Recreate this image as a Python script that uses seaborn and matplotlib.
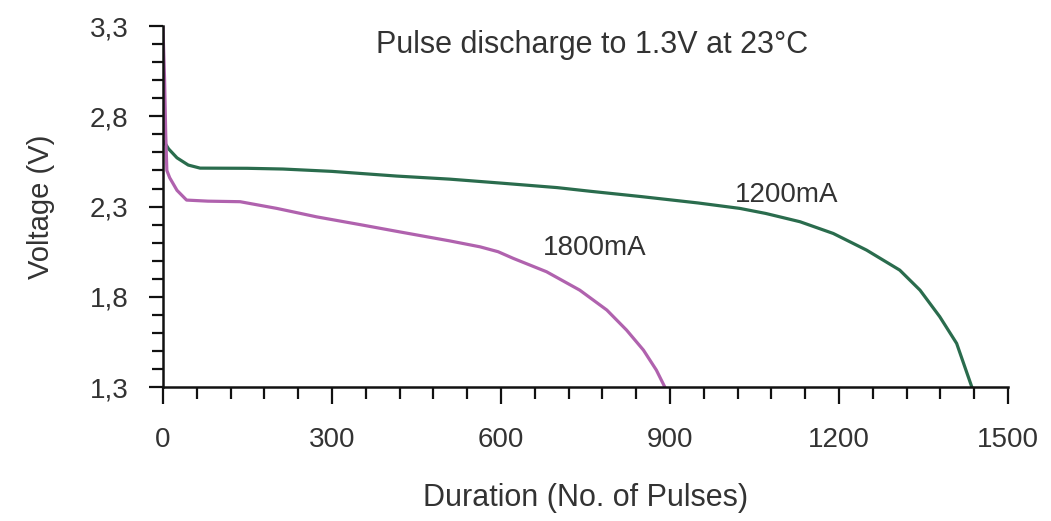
import numpy as np
import pandas as pd
import matplotlib
matplotlib.use("Agg")
import matplotlib.pyplot as plt
import seaborn as sns
from matplotlib.ticker import MultipleLocator

# ==========================
# data
# ==========================

pulses_1200 = [2, 10, 25, 45, 66, 150, 213, 300, 415, 509, 600, 700, 758, 850,
               950, 1024, 1070, 1131, 1190, 1249, 1308, 1344, 1379, 1409, 1436]
volts_1200 = [2.66, 2.62, 2.57, 2.53, 2.513, 2.512, 2.508, 2.495, 2.469, 2.452,
              2.43, 2.405, 2.385, 2.355, 2.32, 2.29, 2.262, 2.216, 2.151, 2.059,
              1.948, 1.837, 1.69, 1.542, 1.3]

pulses_1800 = [0, 3, 5, 7, 12, 25, 42, 80, 137, 202, 273, 350, 420, 509, 563,
               595, 622, 681, 740, 788, 823, 853, 876, 891]
volts_1800 = [3.3, 3.0, 2.7, 2.5, 2.46, 2.39, 2.336, 2.33, 2.327, 2.29, 2.243,
              2.20, 2.16, 2.11, 2.077, 2.05, 2.013, 1.939, 1.837, 1.727, 1.616,
              1.505, 1.394, 1.3]

x_ticks = [0, 300, 600, 900, 1200, 1500]
y_ticks = [1.3, 1.8, 2.3, 2.8, 3.3]
y_tick_labels = ["1,3", "1,8", "2,3", "2,8", "3,3"]

df = pd.concat([
    pd.DataFrame({"pulses": pulses_1200, "volts": volts_1200, "series": "1200mA"}),
    pd.DataFrame({"pulses": pulses_1800, "volts": volts_1800, "series": "1800mA"}),
])

# ==========================
# plot
# ==========================

sns.set_style("white")
plt.rcParams["font.family"] = ["Liberation Sans", "DejaVu Sans"]

fig = plt.figure(figsize=(10.51, 5.21), dpi=100)
ax = fig.add_axes([0.155, 0.257, 0.804, 0.693])

sns.lineplot(
    data=df,
    x="pulses",
    y="volts",
    hue="series",
    palette={"1200mA": "#2a6c4d", "1800mA": "#b062ae"},
    sort=False,
    estimator=None,
    linewidth=2.3,
    legend=False,
    ax=ax
)

ax.set_xlim(0, 1500)
ax.set_ylim(1.3, 3.3)
ax.set_xticks(x_ticks)
ax.set_xticklabels([str(t) for t in x_ticks])
ax.set_yticks(y_ticks)
ax.set_yticklabels(y_tick_labels)
ax.xaxis.set_minor_locator(MultipleLocator(60))
ax.yaxis.set_minor_locator(MultipleLocator(0.1))

ax.tick_params(axis="both", which="both", direction="out", width=1.6,
               color="#111111", bottom=True, left=True)
ax.tick_params(axis="both", which="major", labelsize=20, labelcolor="#333333")
ax.tick_params(axis="x", which="major", length=12, pad=17)
ax.tick_params(axis="x", which="minor", length=8.5)
ax.tick_params(axis="y", which="major", length=10, pad=15)
ax.tick_params(axis="y", which="minor", length=8)

sns.despine(ax=ax)
for side in ["left", "bottom"]:
    ax.spines[side].set_linewidth(1.8)
    ax.spines[side].set_color("#111111")

ax.set_xlabel("Duration (No. of Pulses)", fontsize=22, color="#333333", labelpad=21)
ax.set_ylabel("Voltage (V)", fontsize=21, color="#333333", labelpad=25)

ax.text(762, 3.195, "Pulse discharge to 1.3V at 23°C", fontsize=22,
        color="#333333", ha="center", va="center")
ax.text(1108, 2.364, "1200mA", fontsize=20, color="#333333", ha="center", va="center")
ax.text(767, 2.07, "1800mA", fontsize=20, color="#333333", ha="center", va="center")

plt.savefig("out.png", dpi=100)
